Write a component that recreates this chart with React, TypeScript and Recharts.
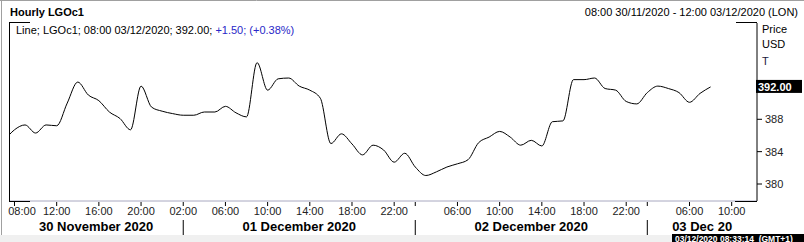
import { LineChart, Line, XAxis, YAxis, ReferenceLine } from "recharts";

// hourly closes, first value is 07:00 30/11 (clipped at the left edge), last is 08:00 03/12
const prices = [
  385.3, 386.7, 387.3, 386.3, 387.3, 387.2, 390.0, 392.6, 391.0, 390.3, 388.9, 388.1,
  386.7, 392.1, 389.5, 389.0, 388.7, 388.5, 388.5, 388.9, 388.9, 389.6, 388.8, 388.3,
  395.0, 391.6, 393.0, 393.1, 392.1, 391.6, 390.6, 385.0, 386.2, 384.95, 383.6, 384.8,
  384.2, 382.7, 383.8, 382.1, 381.05, 381.5, 382.1, 382.5, 383.0, 385.1, 385.8, 386.5,
  385.8, 384.8, 385.4, 384.7, 387.7, 387.8, 392.9, 392.9, 393.1, 391.8, 391.6, 390.2,
  389.9, 391.3, 392.1, 391.8, 391.3, 390.1, 391.2, 392.0,
];
const firstIndex = -1;

const hourTicks = [0, 4, 8, 12, 16, 20, 24, 28, 32, 36, 38, 42, 46, 50, 54, 58, 60, 64, 68];
const hourLabels = [
  "08:00", "12:00", "16:00", "20:00", "02:00", "06:00", "10:00", "14:00", "18:00", "22:00",
  "", "06:00", "10:00", "14:00", "18:00", "22:00", "", "06:00", "10:00",
];
const dayLabels = ["30 November 2020", "01 December 2020", "02 December 2020", "03 Dec 20"];
const dayBreaks = [16, 38, 60];
const priceTicks = [380, 384, 388];

const xDomain = [-0.52, 70.4];
const yDomain = [377.9, 399.9];

const data = prices.map((p, k) => ({ i: k + firstIndex, price: p }));
const lastPrice = prices[prices.length - 1];

const edges = [xDomain[0], ...dayBreaks, xDomain[1]];
const dayCenters = dayLabels.map((_, k) => (edges[k] + edges[k + 1]) / 2);
const dayTicks = [...dayCenters, ...dayBreaks].sort((a, b) => a - b);

const FONT = "'Liberation Sans', Arial, sans-serif";

function HourTick(props: any) {
  const { x, payload } = props;
  const k = hourTicks.indexOf(payload.value);
  const label = k >= 0 ? hourLabels[k] : "";
  // first label is pushed inside the plot's left edge
  const tx = Math.max(x, 22);
  return (
    <g>
      <line x1={x} x2={x} y1={202} y2={206} stroke="#000" />
      <text x={tx} y={215} textAnchor="middle" fontSize={11} fill="#222" fontFamily={FONT}>
        {label}
      </text>
    </g>
  );
}

function DayTick(props: any) {
  const { x, payload } = props;
  if (dayBreaks.includes(payload.value)) {
    return <line x1={x} x2={x} y1={220} y2={235} stroke="#000" />;
  }
  const k = dayCenters.indexOf(payload.value);
  return (
    <text x={x} y={231} textAnchor="middle" fontSize={13} fontWeight="bold" fill="#000" fontFamily={FONT}>
      {dayLabels[k]}
    </text>
  );
}

function PriceBox(props: any) {
  const { viewBox } = props;
  const y = viewBox.y;
  const x = viewBox.x + viewBox.width;
  return (
    <g>
      <rect x={x - 1} y={y - 7} width={46} height={13} fill="#000" />
      <text x={x + 1} y={y + 4} fontSize={11} fontWeight="bold" fill="#fff" fontFamily={FONT}>
        {lastPrice.toFixed(2)}
      </text>
    </g>
  );
}

export default function App() {
  return (
    <div style={{ position: "absolute", left: 0, top: 0, width: 804, height: 242, background: "#fff", fontFamily: FONT }}>
      <LineChart
        width={804}
        height={242}
        data={data}
        margin={{ top: 23, right: 0, bottom: 0, left: 9 }}
      >
        <XAxis
          dataKey="i"
          type="number"
          domain={xDomain}
          allowDataOverflow
          ticks={hourTicks}
          interval={0}
          height={16}
          axisLine={{ stroke: "#a8a8c0" }}
          tickLine={false}
          tick={<HourTick />}
        />
        <XAxis
          xAxisId="days"
          dataKey="i"
          type="number"
          domain={xDomain}
          allowDataOverflow
          ticks={dayTicks}
          interval={0}
          height={25}
          axisLine={false}
          tickLine={false}
          tick={<DayTick />}
        />
        <YAxis
          orientation="right"
          domain={yDomain}
          allowDataOverflow
          ticks={priceTicks}
          interval={0}
          width={47}
          axisLine={{ stroke: "#000" }}
          tickLine={{ stroke: "#000" }}
          tickSize={5}
          tickMargin={3}
          tick={{ fontSize: 11, fill: "#222", fontFamily: FONT }}
        />
        <ReferenceLine y={lastPrice} stroke="none" label={<PriceBox />} />
        <Line
          type="monotone"
          dataKey="price"
          stroke="#000"
          strokeWidth={1}
          dot={false}
          isAnimationActive={false}
        />
      </LineChart>
      <svg
        width={804}
        height={242}
        style={{ position: "absolute", left: 0, top: 0, pointerEvents: "none" }}
        fontFamily={FONT}
      >
        <line x1={0} x2={804} y1={0.5} y2={0.5} stroke="#a0a0a0" />
        <line x1={1.5} x2={1.5} y1={0} y2={235} stroke="#a0a0a0" />
        <rect x={0} y={235} width={804} height={7} fill="#f0f0f0" />
        <text x={10} y={16} fontSize={11} fontWeight="bold" fill="#000">Hourly LGOc1</text>
        <text x={798} y={16} fontSize={11} fill="#000" textAnchor="end">
          08:00 30/11/2020 - 12:00 03/12/2020 (LON)
        </text>
        <text x={16} y={34} fontSize={11} fill="#000">
          Line; LGOc1; 08:00 03/12/2020; 392.00; <tspan fill="#2828c8">+1.50; (+0.38%)</tspan>
        </text>
        <line x1={9.5} x2={9.5} y1={22} y2={201} stroke="#000" />
        <line x1={9} x2={30} y1={22.5} y2={22.5} stroke="#000" />
        <line x1={736} x2={757} y1={22.5} y2={22.5} stroke="#000" />
        <line x1={9} x2={30} y1={201.5} y2={201.5} stroke="#000" />
        <line x1={735} x2={757} y1={201.5} y2={201.5} stroke="#000" />
        <text x={762} y={33} fontSize={11} fill="#000">Price</text>
        <text x={762} y={48} fontSize={11} fill="#000">USD</text>
        <text x={762} y={65} fontSize={11} fill="#1a1a40">T</text>
        <rect x={672} y={234} width={132} height={8} fill="#000" />
        <text x={675} y={241.5} fontSize={8.5} fontWeight="bold" fill="#fff" style={{ whiteSpace: "pre" }}>
          {"03/12/2020 08:33:14  (GMT+1)"}
        </text>
      </svg>
    </div>
  );
}
